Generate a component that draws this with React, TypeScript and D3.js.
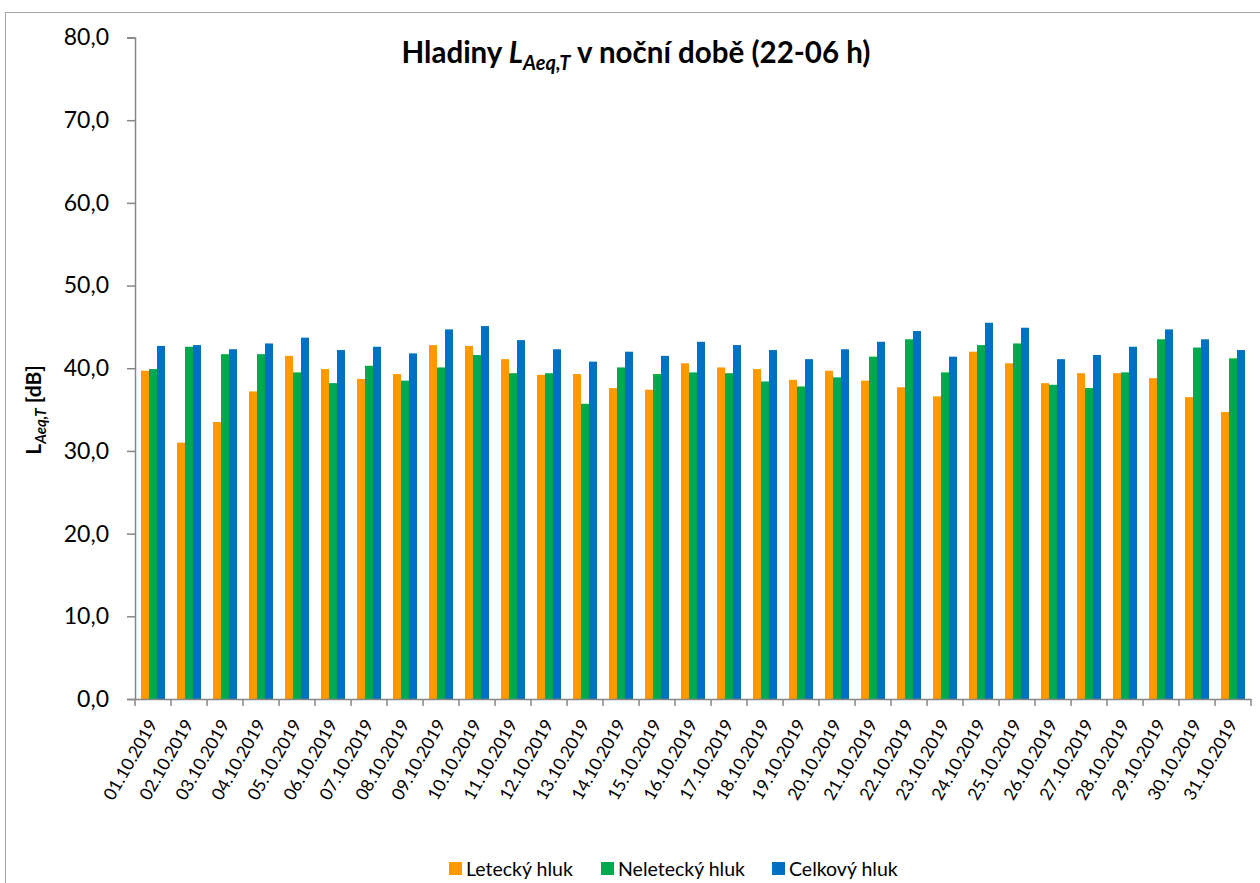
import { useEffect, useRef } from "react"
import * as d3 from "d3"

// Data
const dates = [
  "01.10.2019", "02.10.2019", "03.10.2019", "04.10.2019", "05.10.2019", "06.10.2019",
  "07.10.2019", "08.10.2019", "09.10.2019", "10.10.2019", "11.10.2019", "12.10.2019",
  "13.10.2019", "14.10.2019", "15.10.2019", "16.10.2019", "17.10.2019", "18.10.2019",
  "19.10.2019", "20.10.2019", "21.10.2019", "22.10.2019", "23.10.2019", "24.10.2019",
  "25.10.2019", "26.10.2019", "27.10.2019", "28.10.2019", "29.10.2019", "30.10.2019",
  "31.10.2019",
]

const letecky = [
  39.7, 31.0, 33.5, 37.2, 41.5, 39.9, 38.7, 39.3, 42.8, 42.7, 41.1, 39.2, 39.3, 37.6, 37.4, 40.6,
  40.1, 39.9, 38.6, 39.7, 38.5, 37.7, 36.6, 42.0, 40.6, 38.2, 39.4, 39.4, 38.8, 36.5, 34.7,
]

const neletecky = [
  39.9, 42.6, 41.7, 41.7, 39.5, 38.2, 40.3, 38.5, 40.1, 41.6, 39.4, 39.4, 35.7, 40.1, 39.3, 39.5,
  39.4, 38.4, 37.8, 38.9, 41.4, 43.5, 39.5, 42.8, 43.0, 38.0, 37.6, 39.5, 43.5, 42.5, 41.2,
]

const celkovy = [
  42.7, 42.8, 42.3, 43.0, 43.7, 42.2, 42.6, 41.8, 44.7, 45.1, 43.4, 42.3, 40.8, 42.0, 41.5, 43.2,
  42.8, 42.2, 41.1, 42.3, 43.2, 44.5, 41.4, 45.5, 44.9, 41.1, 41.6, 42.6, 44.7, 43.5, 42.2,
]

const seriesNames = ["Letecký hluk", "Neletecký hluk", "Celkový hluk"]
const seriesValues = [letecky, neletecky, celkovy]
const yTicks = [0, 10, 20, 30, 40, 50, 60, 70, 80]

const COLORS = ["#FF9900", "#00A84F", "#0070C0"]
const FONT = "Lato, 'Open Sans', sans-serif"

export default function App() {
  const svgRef = useRef<SVGSVGElement>(null)

  useEffect(() => {
    if (!svgRef.current) return
    const svg = d3.select(svgRef.current)
    svg.selectAll("*").remove()

    const width = 1260
    const height = 883
    const plot = { left: 135, right: 1251, top: 37.5, bottom: 699 }

    // cadre du graphique
    svg.append("rect")
      .attr("x", 5.5)
      .attr("y", 12.5)
      .attr("width", width + 10)
      .attr("height", height)
      .attr("fill", "#fff")
      .attr("stroke", "#a6a6a6")
      .attr("stroke-width", 1)

    const x = d3.scaleBand<string>().domain(dates).range([plot.left, plot.right]).padding(0)
    const bw = x.bandwidth()
    const xInner = d3.scaleBand<string>()
      .domain(seriesNames)
      .range([bw / 6, (bw * 5) / 6])
      .padding(0)
    const y = d3.scaleLinear().domain([0, 80]).range([plot.bottom, plot.top])

    // barres
    seriesNames.forEach((name, si) => {
      svg.append("g")
        .selectAll("rect")
        .data(seriesValues[si])
        .enter()
        .append("rect")
        .attr("x", (_d, i) => (x(dates[i]) ?? 0) + (xInner(name) ?? 0))
        .attr("y", (d) => y(d))
        .attr("width", xInner.bandwidth())
        .attr("height", (d) => y(0) - y(d))
        .attr("fill", COLORS[si])
    })

    // axe Y
    const yAxis = d3.axisLeft(y)
      .tickValues(yTicks)
      .tickSize(8)
      .tickPadding(18)
      .tickFormat((d) => (d as number).toFixed(1).replace(".", ","))

    const gy = svg.append("g")
      .attr("transform", `translate(${plot.left},0)`)
      .call(yAxis)
    gy.select(".domain").attr("stroke", "#868686").attr("stroke-width", 1.5)
    gy.selectAll(".tick line").attr("stroke", "#868686").attr("stroke-width", 1.5)
    gy.selectAll(".tick text")
      .attr("fill", "#000")
      .attr("font-family", FONT)
      .attr("font-size", 23)

    // axe X
    const xAxis = d3.axisBottom(x).tickSize(0).tickFormat(() => "")
    const gx = svg.append("g")
      .attr("transform", `translate(0,${plot.bottom})`)
      .call(xAxis)
    gx.select(".domain").attr("stroke", "#868686").attr("stroke-width", 1.5)

    // graduations aux limites des catégories
    const boundaries = dates.map((d) => x(d) ?? 0).concat([plot.right])
    svg.append("g")
      .selectAll("line")
      .data(boundaries)
      .enter()
      .append("line")
      .attr("x1", (d) => d)
      .attr("x2", (d) => d)
      .attr("y1", plot.bottom)
      .attr("y2", plot.bottom + 7)
      .attr("stroke", "#868686")
      .attr("stroke-width", 1.5)

    svg.append("g")
      .selectAll("text")
      .data(dates)
      .enter()
      .append("text")
      .attr("transform", (d) => `translate(${(x(d) ?? 0) + bw / 2 + 5},${plot.bottom + 25}) rotate(-60)`)
      .attr("text-anchor", "end")
      .attr("font-family", FONT)
      .attr("font-size", 17.5)
      .attr("fill", "#000")
      .text((d) => d)

    // titre
    const title = svg.append("text")
      .attr("x", 636)
      .attr("y", 63)
      .attr("text-anchor", "middle")
      .attr("font-family", FONT)
      .attr("font-weight", "bold")
      .attr("font-size", 29.5)
      .attr("fill", "#000")
    title.append("tspan").text("Hladiny ")
    title.append("tspan").attr("font-style", "italic").text("L")
    title.append("tspan")
      .attr("font-style", "italic")
      .attr("font-size", 20)
      .attr("dy", 7)
      .text("Aeq,T")
    title.append("tspan").attr("dy", -7).text(" v noční době (22-06 h)")

    // titre de l'axe Y
    const yTitle = svg.append("text")
      .attr("transform", "translate(41,410) rotate(-90)")
      .attr("text-anchor", "middle")
      .attr("font-family", FONT)
      .attr("font-weight", "bold")
      .attr("font-size", 21)
      .attr("fill", "#000")
    yTitle.append("tspan").text("L")
    yTitle.append("tspan")
      .attr("font-style", "italic")
      .attr("font-size", 15)
      .attr("dy", 5)
      .text("Aeq,T")
    yTitle.append("tspan").attr("dy", -5).text(" [dB]")

    // légende
    const legendX = [449, 601, 772]
    const legend = svg.append("g")
    seriesNames.forEach((name, i) => {
      legend.append("rect")
        .attr("x", legendX[i])
        .attr("y", 862)
        .attr("width", 13)
        .attr("height", 13)
        .attr("fill", COLORS[i])
      legend.append("text")
        .attr("x", legendX[i] + 17)
        .attr("y", 876)
        .attr("font-family", FONT)
        .attr("font-size", 19.5)
        .attr("fill", "#000")
        .text(name)
    })
  }, [])

  return (
    <svg
      ref={svgRef}
      width={1260}
      height={883}
      style={{ position: "absolute", left: 0, top: 0, background: "#fff" }}
    />
  )
}
